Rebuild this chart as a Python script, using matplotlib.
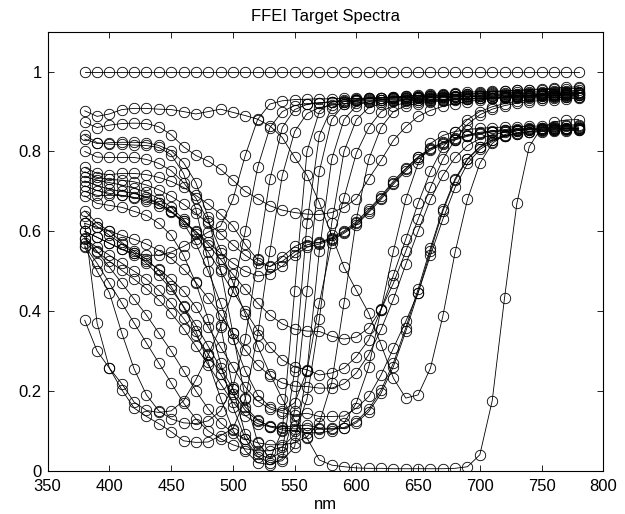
import matplotlib
matplotlib.use('Agg')
import matplotlib.pyplot as plt

# wavelengths (nm), one patch per list below
nm = [380, 390, 400, 410, 420, 430, 440, 450, 460, 470, 480, 490, 500, 510, 520,
      530, 540, 550, 560, 570, 580, 590, 600, 610, 620, 630, 640, 650, 660, 670,
      680, 690, 700, 710, 720, 730, 740, 750, 760, 770, 780]

white = [1.0, 1.0, 1.0, 1.0, 1.0, 1.0, 1.0, 1.0, 1.0, 1.0, 1.0, 1.0, 1.0, 1.0, 1.0,
         1.0, 1.0, 1.0, 1.0, 1.0, 1.0, 1.0, 1.0, 1.0, 1.0, 1.0, 1.0, 1.0, 1.0, 1.0,
         1.0, 1.0, 1.0, 1.0, 1.0, 1.0, 1.0, 1.0, 1.0, 1.0, 1.0]
light_cyan = [0.902, 0.888, 0.894, 0.905, 0.908, 0.908, 0.906, 0.905, 0.900, 0.894, 0.900, 0.906, 0.898, 0.890,
              0.881, 0.864, 0.835, 0.785, 0.740, 0.672, 0.590, 0.510, 0.452, 0.395, 0.316, 0.232, 0.182, 0.190,
              0.257, 0.387, 0.548, 0.680, 0.770, 0.820, 0.842, 0.852, 0.857, 0.860, 0.862, 0.863, 0.864]
pale_pink = [0.873, 0.860, 0.866, 0.870, 0.871, 0.870, 0.862, 0.842, 0.812, 0.790, 0.776, 0.755, 0.728, 0.700,
             0.682, 0.664, 0.653, 0.647, 0.643, 0.642, 0.647, 0.660, 0.682, 0.732, 0.778, 0.828, 0.862, 0.888,
             0.903, 0.913, 0.920, 0.925, 0.929, 0.933, 0.936, 0.939, 0.941, 0.943, 0.945, 0.946, 0.947]
violet = [0.800, 0.786, 0.785, 0.785, 0.785, 0.780, 0.770, 0.752, 0.722, 0.683, 0.625, 0.553, 0.472, 0.392,
          0.312, 0.243, 0.180, 0.127, 0.082, 0.027, 0.014, 0.010, 0.007, 0.006, 0.006, 0.005, 0.005, 0.005,
          0.005, 0.005, 0.006, 0.010, 0.040, 0.175, 0.433, 0.670, 0.812, 0.860, 0.874, 0.879, 0.880]
pink1 = [0.760, 0.745, 0.742, 0.745, 0.745, 0.742, 0.735, 0.725, 0.710, 0.690, 0.668, 0.643, 0.613, 0.567,
         0.529, 0.511, 0.536, 0.562, 0.575, 0.571, 0.581, 0.598, 0.620, 0.651, 0.684, 0.722, 0.755, 0.785,
         0.806, 0.821, 0.831, 0.840, 0.846, 0.850, 0.853, 0.855, 0.856, 0.857, 0.858, 0.858, 0.859]
pink2 = [0.726, 0.715, 0.705, 0.700, 0.695, 0.685, 0.670, 0.650, 0.625, 0.600, 0.572, 0.545, 0.520, 0.500,
         0.488, 0.493, 0.513, 0.540, 0.560, 0.568, 0.578, 0.595, 0.616, 0.647, 0.680, 0.718, 0.751, 0.781,
         0.803, 0.818, 0.829, 0.838, 0.844, 0.849, 0.852, 0.854, 0.855, 0.856, 0.857, 0.857, 0.858]
pink3 = [0.749, 0.735, 0.730, 0.728, 0.724, 0.716, 0.704, 0.688, 0.668, 0.645, 0.620, 0.594, 0.566, 0.540,
         0.520, 0.512, 0.525, 0.548, 0.566, 0.572, 0.584, 0.601, 0.624, 0.655, 0.688, 0.726, 0.758, 0.787,
         0.808, 0.823, 0.833, 0.842, 0.848, 0.852, 0.855, 0.857, 0.858, 0.859, 0.860, 0.860, 0.861]
magenta1 = [0.841, 0.822, 0.818, 0.818, 0.816, 0.815, 0.810, 0.792, 0.745, 0.655, 0.525, 0.365, 0.205, 0.092,
            0.042, 0.030, 0.100, 0.450, 0.800, 0.900, 0.924, 0.930, 0.932, 0.933, 0.934, 0.935, 0.936, 0.937,
            0.938, 0.939, 0.940, 0.941, 0.942, 0.943, 0.944, 0.945, 0.946, 0.947, 0.948, 0.949, 0.950]
magenta2 = [0.831, 0.820, 0.822, 0.823, 0.823, 0.822, 0.815, 0.802, 0.772, 0.722, 0.635, 0.505, 0.345, 0.182,
            0.072, 0.030, 0.048, 0.250, 0.620, 0.840, 0.910, 0.925, 0.930, 0.933, 0.935, 0.937, 0.939, 0.941,
            0.943, 0.945, 0.947, 0.949, 0.950, 0.951, 0.952, 0.953, 0.954, 0.955, 0.956, 0.957, 0.958]
magenta3 = [0.651, 0.620, 0.600, 0.572, 0.550, 0.530, 0.502, 0.462, 0.410, 0.350, 0.272, 0.182, 0.102, 0.050,
            0.020, 0.015, 0.030, 0.150, 0.450, 0.750, 0.880, 0.918, 0.928, 0.932, 0.934, 0.936, 0.938, 0.940,
            0.941, 0.942, 0.943, 0.944, 0.945, 0.946, 0.947, 0.948, 0.949, 0.950, 0.951, 0.952, 0.953]
magenta4 = [0.689, 0.670, 0.665, 0.660, 0.650, 0.640, 0.620, 0.590, 0.540, 0.470, 0.380, 0.270, 0.160, 0.080,
            0.035, 0.020, 0.025, 0.060, 0.250, 0.550, 0.780, 0.880, 0.915, 0.925, 0.930, 0.933, 0.935, 0.937,
            0.939, 0.941, 0.943, 0.945, 0.947, 0.949, 0.951, 0.953, 0.955, 0.957, 0.959, 0.961, 0.962]
magenta5 = [0.700, 0.690, 0.690, 0.690, 0.685, 0.680, 0.670, 0.650, 0.620, 0.570, 0.500, 0.420, 0.330, 0.250,
            0.190, 0.160, 0.150, 0.170, 0.250, 0.420, 0.570, 0.684, 0.796, 0.860, 0.900, 0.915, 0.922, 0.925,
            0.927, 0.929, 0.931, 0.933, 0.934, 0.935, 0.936, 0.937, 0.938, 0.939, 0.940, 0.941, 0.942]
yellow1 = [0.377, 0.300, 0.257, 0.218, 0.172, 0.151, 0.146, 0.150, 0.175, 0.228, 0.290, 0.360, 0.450, 0.600,
           0.760, 0.860, 0.900, 0.915, 0.920, 0.922, 0.924, 0.925, 0.926, 0.927, 0.928, 0.929, 0.930, 0.930,
           0.931, 0.931, 0.932, 0.932, 0.933, 0.933, 0.934, 0.934, 0.935, 0.935, 0.936, 0.936, 0.937]
pale_yellow = [0.600, 0.585, 0.570, 0.555, 0.545, 0.540, 0.540, 0.548, 0.562, 0.580, 0.598, 0.613, 0.680, 0.790,
               0.880, 0.919, 0.927, 0.930, 0.931, 0.932, 0.932, 0.933, 0.933, 0.934, 0.934, 0.935, 0.935, 0.936,
               0.936, 0.937, 0.937, 0.938, 0.938, 0.939, 0.939, 0.940, 0.940, 0.941, 0.941, 0.942, 0.942]
yellow2 = [0.620, 0.370, 0.257, 0.203, 0.157, 0.136, 0.118, 0.098, 0.075, 0.071, 0.072, 0.088, 0.105, 0.180,
           0.340, 0.550, 0.740, 0.850, 0.895, 0.910, 0.916, 0.920, 0.922, 0.924, 0.925, 0.926, 0.927, 0.928,
           0.929, 0.930, 0.931, 0.932, 0.933, 0.934, 0.935, 0.936, 0.937, 0.938, 0.939, 0.940, 0.941]
yellow3 = [0.560, 0.500, 0.446, 0.345, 0.255, 0.190, 0.150, 0.130, 0.120, 0.118, 0.125, 0.150, 0.210, 0.330,
           0.530, 0.730, 0.860, 0.905, 0.918, 0.922, 0.925, 0.927, 0.928, 0.929, 0.930, 0.931, 0.932, 0.933,
           0.934, 0.935, 0.936, 0.937, 0.938, 0.939, 0.940, 0.941, 0.942, 0.943, 0.944, 0.945, 0.946]
purple1 = [0.580, 0.560, 0.540, 0.520, 0.500, 0.480, 0.452, 0.420, 0.382, 0.340, 0.292, 0.242, 0.192, 0.152,
           0.125, 0.112, 0.106, 0.105, 0.106, 0.104, 0.104, 0.106, 0.120, 0.148, 0.194, 0.261, 0.349, 0.446,
           0.550, 0.650, 0.728, 0.780, 0.810, 0.828, 0.838, 0.844, 0.848, 0.850, 0.851, 0.852, 0.853]
purple2 = [0.570, 0.548, 0.525, 0.502, 0.480, 0.456, 0.428, 0.395, 0.356, 0.312, 0.265, 0.218, 0.172, 0.138,
           0.118, 0.110, 0.110, 0.112, 0.114, 0.107, 0.106, 0.108, 0.124, 0.154, 0.202, 0.270, 0.358, 0.455,
           0.558, 0.655, 0.732, 0.782, 0.812, 0.830, 0.840, 0.846, 0.850, 0.852, 0.853, 0.854, 0.855]
purple3 = [0.600, 0.585, 0.570, 0.555, 0.540, 0.525, 0.505, 0.480, 0.450, 0.410, 0.360, 0.310, 0.260, 0.210,
           0.175, 0.155, 0.145, 0.140, 0.144, 0.136, 0.136, 0.137, 0.157, 0.186, 0.240, 0.307, 0.374, 0.446,
           0.540, 0.630, 0.710, 0.770, 0.805, 0.825, 0.838, 0.845, 0.850, 0.853, 0.855, 0.856, 0.857]
purple4 = [0.620, 0.610, 0.600, 0.590, 0.580, 0.568, 0.552, 0.532, 0.505, 0.472, 0.432, 0.390, 0.345, 0.302,
           0.265, 0.238, 0.220, 0.212, 0.211, 0.207, 0.207, 0.218, 0.245, 0.291, 0.354, 0.430, 0.517, 0.600,
           0.680, 0.740, 0.785, 0.815, 0.832, 0.842, 0.848, 0.852, 0.854, 0.855, 0.856, 0.857, 0.857]
mauve1 = [0.737, 0.728, 0.722, 0.716, 0.708, 0.698, 0.682, 0.660, 0.630, 0.592, 0.548, 0.500, 0.450, 0.400,
          0.352, 0.310, 0.278, 0.260, 0.253, 0.240, 0.245, 0.257, 0.286, 0.328, 0.404, 0.490, 0.580, 0.670,
          0.750, 0.810, 0.850, 0.880, 0.900, 0.912, 0.920, 0.926, 0.930, 0.933, 0.935, 0.936, 0.937]
mauve2 = [0.714, 0.702, 0.695, 0.690, 0.684, 0.676, 0.664, 0.648, 0.626, 0.598, 0.566, 0.530, 0.492, 0.455,
          0.420, 0.390, 0.368, 0.355, 0.350, 0.349, 0.337, 0.330, 0.335, 0.358, 0.404, 0.470, 0.550, 0.630,
          0.710, 0.780, 0.830, 0.868, 0.892, 0.906, 0.915, 0.921, 0.925, 0.928, 0.930, 0.932, 0.933]
orange = [0.563, 0.520, 0.470, 0.420, 0.370, 0.320, 0.270, 0.220, 0.170, 0.130, 0.100, 0.080, 0.065, 0.055,
          0.050, 0.050, 0.060, 0.090, 0.180, 0.380, 0.620, 0.800, 0.880, 0.910, 0.920, 0.926, 0.930, 0.933,
          0.935, 0.937, 0.938, 0.939, 0.940, 0.941, 0.942, 0.943, 0.944, 0.945, 0.946, 0.947, 0.948]
red1 = [0.584, 0.550, 0.510, 0.470, 0.430, 0.390, 0.345, 0.300, 0.250, 0.200, 0.155, 0.120, 0.095, 0.080,
        0.070, 0.065, 0.065, 0.070, 0.085, 0.120, 0.220, 0.420, 0.630, 0.780, 0.860, 0.900, 0.915, 0.920,
        0.924, 0.927, 0.929, 0.931, 0.933, 0.935, 0.937, 0.939, 0.940, 0.941, 0.942, 0.943, 0.944]
red2 = [0.638, 0.612, 0.590, 0.568, 0.545, 0.520, 0.490, 0.455, 0.412, 0.365, 0.312, 0.258, 0.205, 0.160,
        0.128, 0.110, 0.102, 0.100, 0.095, 0.095, 0.100, 0.120, 0.170, 0.260, 0.405, 0.550, 0.680, 0.770,
        0.820, 0.840, 0.850, 0.855, 0.858, 0.860, 0.861, 0.862, 0.863, 0.864, 0.865, 0.866, 0.867]

spectra = [white, light_cyan, pale_pink, violet, pink1, pink2, pink3,
           magenta1, magenta2, magenta3, magenta4, magenta5,
           yellow1, pale_yellow, yellow2, yellow3,
           purple1, purple2, purple3, purple4, mauve1, mauve2,
           orange, red1, red2]

plt.rcParams['font.family'] = ['Liberation Sans', 'DejaVu Sans']

fig = plt.figure(figsize=(6.25, 5.14), dpi=100)
ax = fig.add_axes([0.0763, 0.0842, 0.889, 0.854])

for s in spectra:
    ax.plot(nm, s, '-o', color='k', mfc='none', ms=7.5, lw=0.6, mew=0.6)

ax.set_xlim(350, 800)
ax.set_ylim(0, 1.1)
ax.set_xticks([350, 400, 450, 500, 550, 600, 650, 700, 750, 800])
ax.set_yticks([0, 0.2, 0.4, 0.6, 0.8, 1])
ax.set_yticklabels(['0', '0.2', '0.4', '0.6', '0.8', '1'])
ax.tick_params(direction='in', top=True, right=True, length=4.5, width=0.6,
               labelsize=12)
ax.tick_params(axis='x', pad=6)
ax.tick_params(axis='y', pad=4.3)
for sp in ax.spines.values():
    sp.set_linewidth(0.8)

ax.set_title('FFEI Target Spectra', fontsize=12, pad=8)
ax.set_xlabel('nm', fontsize=12, labelpad=2)

fig.savefig('out.png', dpi=100)
